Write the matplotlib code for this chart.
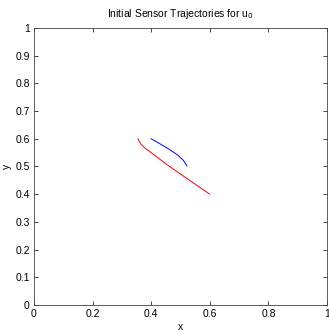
import numpy as np
import matplotlib.pyplot as plt

plt.rcParams['font.family'] = ['Liberation Sans', 'DejaVu Sans']

# sensor trajectories
red_x = [0.355, 0.359, 0.365, 0.374, 0.386, 0.40, 0.42, 0.45, 0.49, 0.53, 0.57, 0.60]
red_y = [0.600, 0.591, 0.581, 0.571, 0.561, 0.550, 0.534, 0.510, 0.480, 0.451, 0.422, 0.400]
blue_x = [0.40, 0.43, 0.46, 0.49, 0.51, 0.522]
blue_y = [0.600, 0.582, 0.563, 0.542, 0.522, 0.502]

ticks = [0, 0.2, 0.4, 0.6, 0.8, 1]
yticks = np.round(np.arange(0, 1.01, 0.1), 1)

fig = plt.figure(figsize=(3.29, 3.31), dpi=100)
ax = fig.add_axes([0.103, 0.0785, 0.891, 0.837])
ax.plot(blue_x, blue_y, color='blue', lw=0.7)
ax.plot(red_x, red_y, color='red', lw=0.7)

ax.set_xlim(0, 1)
ax.set_ylim(0, 1)
ax.set_xticks(ticks)
ax.set_xticklabels(['0', '0.2', '0.4', '0.6', '0.8', '1'])
ax.set_yticks(yticks)
ax.set_yticklabels(['0'] + ['%.1f' % v for v in yticks[1:-1]] + ['1'])
ax.tick_params(direction='in', top=True, right=True, length=3, width=0.5,
               labelsize=7.5, pad=3)
for s in ax.spines.values():
    s.set_linewidth(0.6)
    s.set_color('#444444')
ax.set_xlabel('x', fontsize=7.5, labelpad=2)
ax.set_ylabel('y', fontsize=7.5, labelpad=2)
ax.set_title('Initial Sensor Trajectories for u$_0$', fontsize=7.5, pad=8)

fig.savefig('out.png', dpi=100)
